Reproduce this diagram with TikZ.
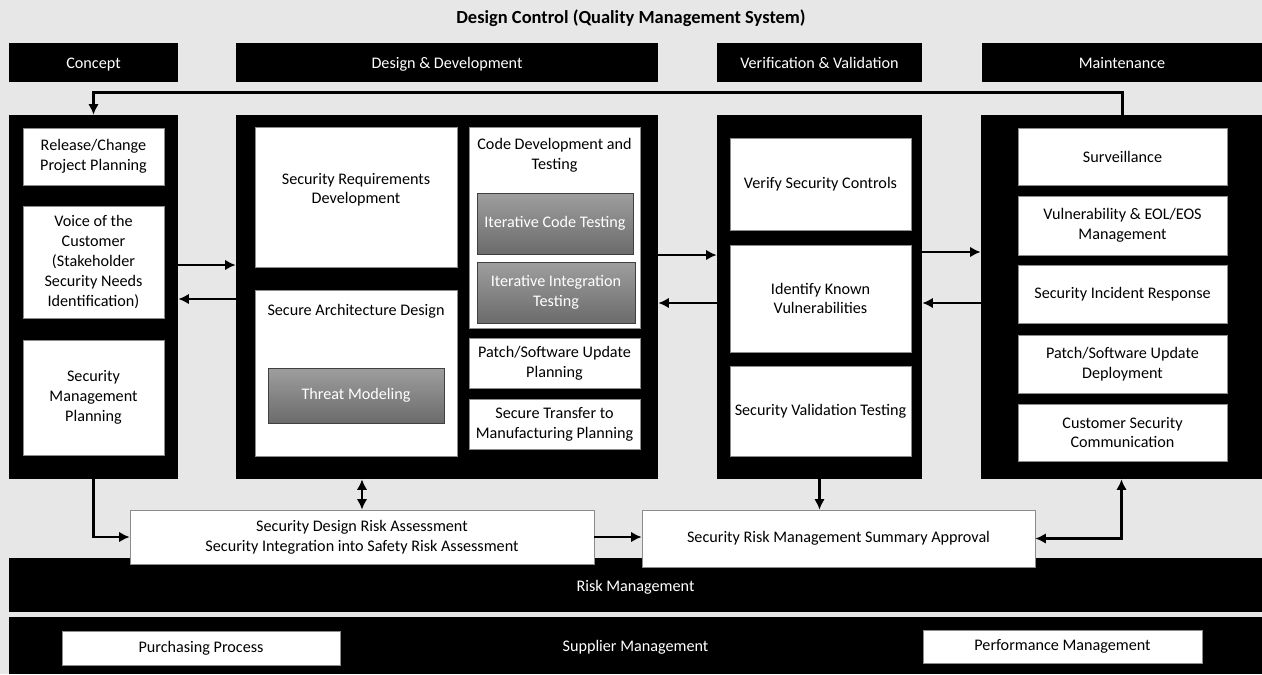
\documentclass[tikz,border=0pt]{standalone}
\usepackage{fontspec}
\setmainfont{Carlito}
\usetikzlibrary{positioning,arrows.meta}

\definecolor{bggrey}{HTML}{E7E7E7}

\tikzset{
  hdr/.style={fill=black, text=white, inner sep=0pt, align=center, text height=9.5pt, text depth=2.5pt},
  col/.style={fill=black, inner sep=0pt},
  task/.style={fill=white, draw=black!45, inner sep=2pt, align=center},
  greytask/.style={top color=black!38, bottom color=black!58, draw=black!75, text=white, inner sep=2pt, align=center},
  arr/.style={->, >={Latex[length=6pt,width=6pt]}, line width=1.3pt},
  darr/.style={<->, >={Latex[length=6pt,width=6pt]}, line width=1.3pt}
}

\begin{document}
\begin{tikzpicture}[x=0.02cm, y=-0.02cm, font=\fontsize{9.2}{11.3}\selectfont]
\fill[bggrey] (0,0) rectangle (1262,674);
\useasboundingbox (0,0) rectangle (1262,674);

\node (title) at (631,18) {\fontsize{10.5}{12}\selectfont\textbf{Design Control (Quality Management System)}};

% phase headers
\node[hdr, minimum width=3.38cm, minimum height=0.78cm] (hConcept) at (93.5,62.5) {Concept};
\node[hdr, minimum width=8.44cm, minimum height=0.78cm] (hDesign) at (447,62.5) {Design \& Development};
\node[hdr, minimum width=4.1cm, minimum height=0.78cm] (hVerif) at (819.5,62.5) {Verification \& Validation};
\node[hdr, minimum width=5.6cm, minimum height=0.78cm] (hMaint) at (1122,62.5) {Maintenance};

% phase columns
\node[col, minimum width=3.38cm, minimum height=7.28cm] (cConcept) at (93.5,297) {};
\node[col, minimum width=8.44cm, minimum height=7.28cm] (cDesign) at (447,297) {};
\node[col, minimum width=4.1cm, minimum height=7.28cm] (cVerif) at (819.5,297) {};
\node[col, minimum width=5.62cm, minimum height=7.28cm] (cMaint) at (1121.5,297) {};

% concept
\node[task, minimum width=2.82cm, minimum height=1.14cm] (release) at (93.5,156.5) {Release/Change\\Project Planning};
\node[task, minimum width=2.82cm, minimum height=2.24cm] (voice) at (93.5,262) {Voice of the\\Customer\\(Stakeholder\\Security Needs\\Identification)};
\node[task, minimum width=2.82cm, minimum height=2.3cm] (secmgmt) at (93.5,397.5) {Security\\Management\\Planning};

% design & development
\node[task, minimum width=4.04cm, minimum height=2.8cm] (reqdev) at (356,197) {Security Requirements\\Development\\[-1.5pt]};
\node[task, minimum width=4.04cm, minimum height=3.32cm, label={[anchor=north, yshift=-5pt]north:Secure Architecture Design}] (archdes) at (356,373) {};
\node[greytask, minimum width=3.52cm, minimum height=1.1cm] (threat) at (356,395.5) {Threat Modeling};
\node[task, minimum width=3.42cm, minimum height=4.02cm, label={[anchor=north, yshift=-3pt, align=center]north:Code Development and\\Testing}] (codedev) at (554.5,227.5) {};
\node[greytask, minimum width=3.12cm, minimum height=1.22cm] (itcode) at (555,223.5) {Iterative Code Testing};
\node[greytask, minimum width=3.16cm, minimum height=1.22cm] (itint) at (556,292.5) {Iterative Integration\\Testing};
\node[task, minimum width=3.42cm, minimum height=1cm] (patchplan) at (554.5,363) {Patch/Software Update\\Planning};
\node[task, minimum width=3.42cm, minimum height=1cm] (transfer) at (554.5,424) {Secure Transfer to\\Manufacturing Planning};

% verification & validation
\node[task, minimum width=3.62cm, minimum height=1.84cm] (verify) at (820.5,184) {Verify Security Controls};
\node[task, minimum width=3.62cm, minimum height=2.14cm] (identify) at (820.5,298.5) {Identify Known\\Vulnerabilities};
\node[task, minimum width=3.62cm, minimum height=1.8cm] (valtest) at (820.5,411) {Security Validation Testing};

% maintenance
\node[task, minimum width=4.18cm, minimum height=1.14cm] (surv) at (1122.5,156.5) {Surveillance};
\node[task, minimum width=4.18cm, minimum height=1.18cm] (vuln) at (1122.5,225.5) {Vulnerability \& EOL/EOS\\Management};
\node[task, minimum width=4.18cm, minimum height=1.16cm] (incident) at (1122.5,294) {Security Incident Response};
\node[task, minimum width=4.18cm, minimum height=1.16cm] (patchdep) at (1122.5,364) {Patch/Software Update\\Deployment};
\node[task, minimum width=4.18cm, minimum height=1.14cm] (custcomm) at (1122.5,432.5) {Customer Security\\Communication};

% risk and supplier management
\node[hdr, minimum width=25.06cm, minimum height=1.08cm] (riskband) at (635.5,585) {Risk Management};
\node[hdr, minimum width=25.06cm, minimum height=1.14cm] (supband) at (635.5,645.5) {Supplier Management};
\node[task, minimum width=9.28cm, minimum height=1.08cm] (sdra) at (362,537) {Security Design Risk Assessment\\Security Integration into Safety Risk Assessment};
\node[task, minimum width=7.86cm, minimum height=1.14cm] (srmsa) at (838.5,538.5) {Security Risk Management Summary Approval};
\node[task, minimum width=5.56cm, minimum height=0.68cm] (purch) at (201,648) {Purchasing Process};
\node[task, minimum width=5.58cm, minimum height=0.66cm] (perf) at (1062.5,646.5) {Performance Management};

% connectors
\coordinate (loop) at (93.5,92);
\draw[arr, line width=1.7pt] (hMaint.center |- cMaint.north) |- (loop) -- (cConcept.north);

\draw[arr] (cConcept.east |- 0,265) -- (cDesign.west |- 0,265);
\draw[arr] (cDesign.west |- 0,299) -- (cConcept.east |- 0,299);
\draw[arr] (cDesign.east |- 0,255) -- (cVerif.west |- 0,255);
\draw[arr] (cVerif.west |- 0,303) -- (cDesign.east |- 0,303);
\draw[arr] (cVerif.east |- 0,252) -- (cMaint.west |- 0,252);
\draw[arr] (cMaint.west |- 0,303) -- (cVerif.east |- 0,303);

\draw[arr] (cConcept.south) |- (sdra.west);
\draw[darr] (sdra.north) -- (sdra.north |- cDesign.south);
\draw[arr] (sdra.east) -- (sdra.east -| srmsa.west);
\draw[arr] (cVerif.south) -- (cVerif.south |- srmsa.north);
\draw[darr] (srmsa.east) -| (cMaint.south);

\end{tikzpicture}
\end{document}
